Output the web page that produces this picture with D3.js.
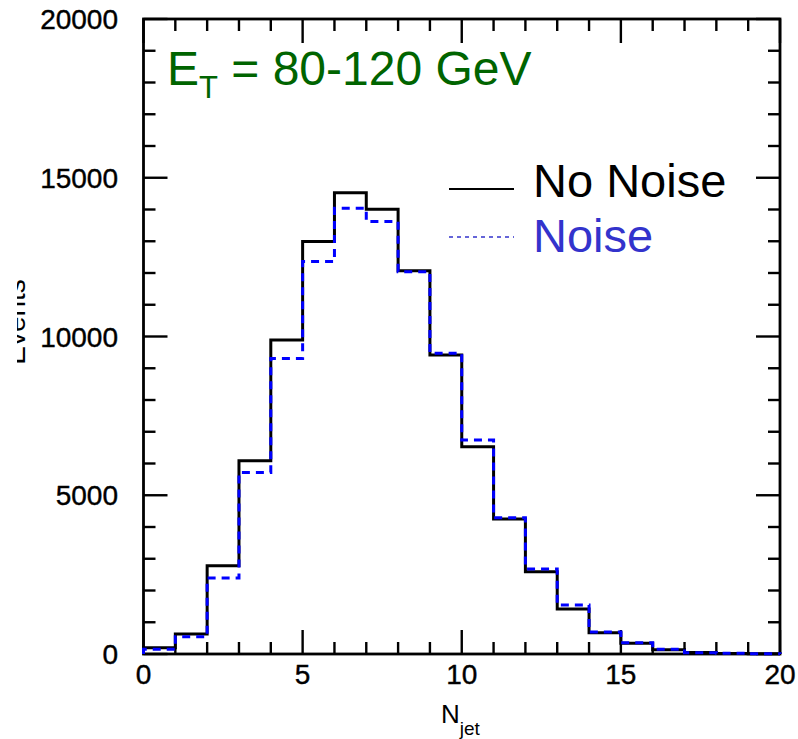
<!DOCTYPE html>
<html>
<head>
<meta charset="utf-8">
<script src="https://cdn.jsdelivr.net/npm/d3@7"></script>
<style>
  body { margin: 0; background: #fff; }
  text { font-family: "Liberation Sans", Arial, Helvetica, sans-serif; }
</style>
</head>
<body>
<div id="plot"></div>
<script>
// histogram bins: N_jet = 0..19, each bin one unit wide
const binEdges = d3.range(0, 20);
const noNoise = [200, 630, 2780, 6090, 9890, 12990, 14530, 14010, 12070, 9420,
                 6530, 4250, 2590, 1420, 670, 340, 130, 45, 15, 5];
const withNoise = [150, 545, 2390, 5720, 9310, 12360, 14040, 13620, 12040, 9470,
                   6740, 4290, 2680, 1540, 690, 355, 150, 40, 20, 5];
const xTicks = [0, 5, 10, 15, 20];
const yTicks = [0, 5000, 10000, 15000, 20000];

const width = 798, height = 739;
const margin = {left: 143.5, right: 18, top: 19, bottom: 85};

const svg = d3.select("#plot")
  .append("svg")
    .attr("width", width)
    .attr("height", height);

const x = d3.scaleLinear().domain([0, 20]).range([margin.left, width - margin.right]);
const y = d3.scaleLinear().domain([0, 20000]).range([height - margin.bottom, margin.top]);

// ticks on all four sides, pointing inward
const minorX = d3.range(0, 21), minorY = d3.range(0, 20001, 1000);
const tickLen = (major) => major ? 24 : 12;
const ticks = svg.append("g").attr("stroke", "#000").attr("stroke-width", 2.4);
minorX.forEach(v => {
  const L = tickLen(v % 5 === 0);
  ticks.append("line").attr("x1", x(v)).attr("x2", x(v)).attr("y1", y(0)).attr("y2", y(0) - L);
  ticks.append("line").attr("x1", x(v)).attr("x2", x(v)).attr("y1", y(20000)).attr("y2", y(20000) + L);
});
minorY.forEach(v => {
  const L = tickLen(v % 5000 === 0);
  ticks.append("line").attr("x1", x(0)).attr("x2", x(0) + L).attr("y1", y(v)).attr("y2", y(v));
  ticks.append("line").attr("x1", x(20)).attr("x2", x(20) - L).attr("y1", y(v)).attr("y2", y(v));
});

// frame
svg.append("rect")
  .attr("x", x(0)).attr("y", y(20000))
  .attr("width", x(20) - x(0)).attr("height", y(0) - y(20000))
  .attr("fill", "none").attr("stroke", "#000").attr("stroke-width", 2.8);

// tick labels
svg.append("g").selectAll("text").data(xTicks).join("text")
  .attr("x", d => x(d)).attr("y", 684)
  .attr("text-anchor", "middle").attr("font-size", 28)
  .attr("stroke", "#000").attr("stroke-width", 0.4)
  .text(d => d);
svg.append("g").selectAll("text").data(yTicks).join("text")
  .attr("x", 118).attr("y", d => y(d)).attr("dy", "0.36em")
  .attr("text-anchor", "end").attr("font-size", 28)
  .attr("stroke", "#000").attr("stroke-width", 0.4)
  .text(d => d);

// axis titles
const xl = svg.append("text").attr("x", 441).attr("y", 723).attr("font-size", 26);
xl.append("tspan").text("N");
xl.append("tspan").attr("dy", 12).attr("font-size", 19).text("jet");

// the y title is cut off at the left edge in the original
svg.append("clipPath").attr("id", "ylab-clip")
  .append("rect").attr("x", 17).attr("y", 0).attr("width", 40).attr("height", height);
svg.append("g").attr("clip-path", "url(#ylab-clip)")
  .append("text")
  .attr("transform", "translate(25,322) rotate(-90)")
  .attr("text-anchor", "middle").attr("font-size", 28)
  .text("Events");

// histograms as step lines
const stepPts = vals => [[0, 0]].concat(binEdges.map((b, i) => [b, vals[i]]),
  [[20, vals[vals.length - 1]], [20, 0]]);
const line = d3.line().x(d => x(d[0])).y(d => y(d[1])).curve(d3.curveStepAfter);

svg.append("path").datum(stepPts(noNoise))
  .attr("d", line).attr("fill", "none")
  .attr("stroke", "#000").attr("stroke-width", 3);
svg.append("path").datum(stepPts(withNoise))
  .attr("d", line).attr("fill", "none")
  .attr("stroke", "#0000ff").attr("stroke-width", 3)
  .attr("stroke-dasharray", "8,6");

// title
const title = svg.append("text").attr("x", 167).attr("y", 85)
  .attr("font-size", 48).attr("fill", "#006400");
title.append("tspan").text("E");
title.append("tspan").attr("dy", 13).attr("font-size", 31).text("T");
title.append("tspan").attr("dy", -13).text(" = 80-120 GeV");

// legend
const legend = [
  {label: "No Noise", color: "#000", text: "#000", dash: null, width: 2, y: 189, ty: 197},
  {label: "Noise", color: "#3333cc", text: "#3333cc", dash: "4,4", width: 1.5, y: 237, ty: 252}
];
legend.forEach(d => {
  svg.append("line").attr("x1", 449).attr("x2", 514).attr("y1", d.y).attr("y2", d.y)
    .attr("stroke", d.color).attr("stroke-width", d.width)
    .attr("stroke-dasharray", d.dash);
  svg.append("text").attr("x", 533).attr("y", d.ty)
    .attr("font-size", 47).attr("fill", d.text).text(d.label);
});
</script>
</body>
</html>
